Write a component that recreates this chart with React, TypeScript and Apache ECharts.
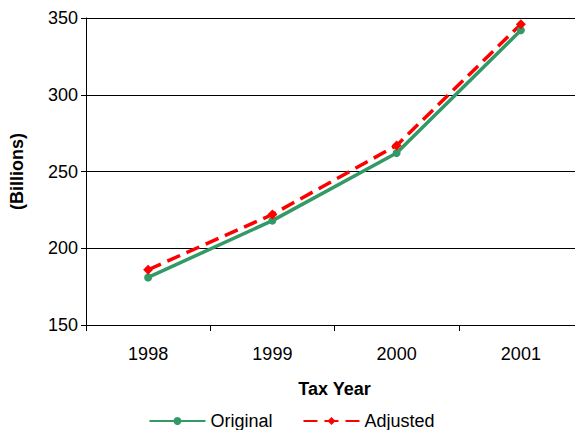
import React, { useEffect, useRef } from 'react';
import * as echarts from 'echarts';

const years = ['1998', '1999', '2000', '2001'];
const original = [181, 218, 262, 342];
const adjusted = [186, 222, 267, 346];

const App: React.FC = () => {
  const chartRef = useRef<HTMLDivElement>(null);

  useEffect(() => {
    if (!chartRef.current) return;
    const chart = echarts.init(chartRef.current, undefined, { renderer: 'svg' });
    const font = 'Arial, "Liberation Sans", sans-serif';
    chart.setOption({
      animation: false,
      textStyle: { fontFamily: font },
      grid: { left: 83, width: 504, top: 18, height: 307 },
      legend: {
        bottom: 3,
        left: 'center',
        itemWidth: 56,
        itemHeight: 10,
        itemGap: 30,
        textStyle: { fontSize: 18, color: '#000', fontFamily: font },
        data: ['Original', 'Adjusted'],
      },
      xAxis: {
        type: 'category',
        data: years,
        boundaryGap: true,
        name: 'Tax Year',
        nameLocation: 'middle',
        nameGap: 55,
        nameTextStyle: { fontSize: 18, fontWeight: 'bold', color: '#000' },
        axisLine: { lineStyle: { color: '#000' } },
        axisTick: { show: true, length: 6, inside: false, lineStyle: { color: '#000' } },
        axisLabel: { fontSize: 18, color: '#000', margin: 20 },
      },
      yAxis: {
        type: 'value',
        min: 150,
        max: 350,
        interval: 50,
        name: '(Billions)',
        nameLocation: 'middle',
        nameGap: 60,
        nameTextStyle: { fontSize: 18, fontWeight: 'bold', color: '#000' },
        axisLine: { show: true, lineStyle: { color: '#000' } },
        axisTick: { show: true, length: 5, lineStyle: { color: '#000' } },
        axisLabel: { fontSize: 18, color: '#000', margin: 8 },
        splitLine: { lineStyle: { color: '#000' } },
      },
      series: [
        {
          name: 'Original',
          type: 'line',
          data: original,
          color: '#339966',
          symbol: 'circle',
          symbolSize: 8,
          lineStyle: { width: 3.5, color: '#339966' },
          itemStyle: { color: '#339966' },
        },
        {
          name: 'Adjusted',
          type: 'line',
          data: adjusted,
          color: '#ff0000',
          symbol: 'diamond',
          symbolSize: 10,
          lineStyle: { width: 3.5, type: [14, 7], color: '#ff0000' },
          itemStyle: { color: '#ff0000' },
        },
      ],
    });
    return () => chart.dispose();
  }, []);

  return <div ref={chartRef} style={{ width: 583, height: 438, margin: -8 }} />;
};

export default App;
